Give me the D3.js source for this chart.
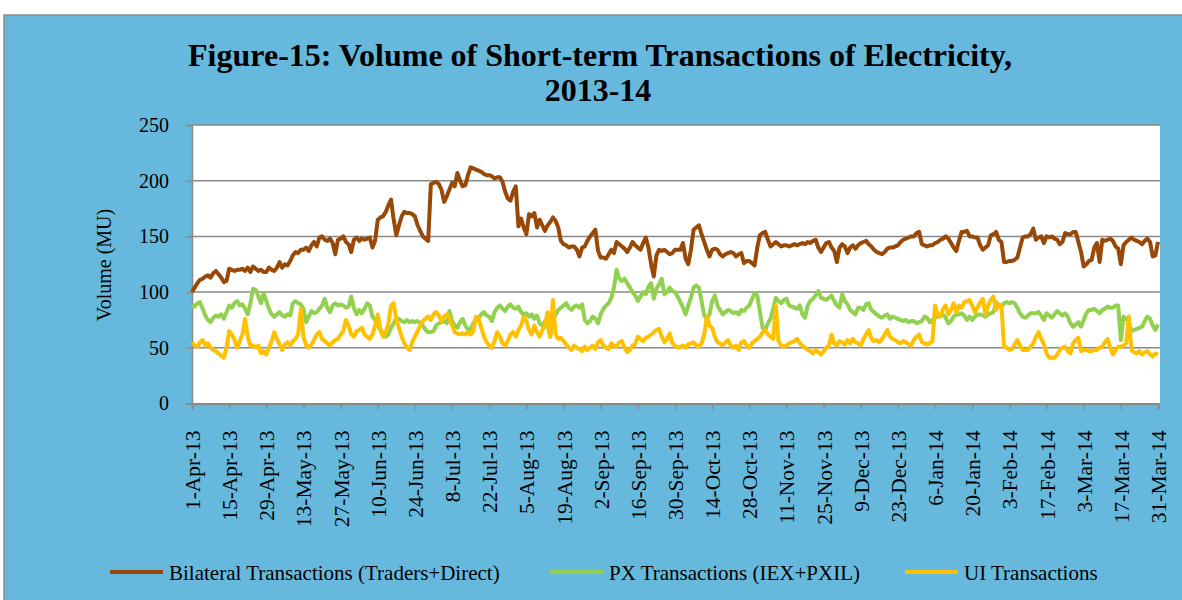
<!DOCTYPE html>
<html>
<head>
<meta charset="utf-8">
<script src="https://cdn.jsdelivr.net/npm/d3@7"></script>
<style>
body { margin: 0; background: #fff; }
svg  { display: block; font-family: "Liberation Serif", "Times New Roman", serif; }
</style>
</head>
<body>
<svg id="chart" width="1182" height="600"></svg>
<script>
"use strict"

// daily volumes (MU), 1-Apr-13 .. 31-Mar-14, one row per two weeks
var bilateral = [
    100,104,108,111,112,114,115,113,117,119,116,113,109,110,
    121,120,119,120,120,121,119,122,118,123,121,119,120,118,
    118,122,120,119,122,127,122,125,124,128,133,136,135,138,
    138,140,137,142,145,141,149,150,147,146,148,144,134,147,
    148,150,145,143,136,147,149,146,148,147,148,149,140,146,
    165,167,168,172,178,183,165,151,160,168,172,171,171,170,
    168,160,155,150,148,146,197,198,199,197,192,181,186,192,
    198,195,207,200,195,196,205,212,211,210,209,208,206,205,
    205,204,202,203,203,199,190,184,182,190,195,159,166,158,
    152,170,168,171,158,165,160,155,160,163,167,164,158,146,
    143,142,140,141,141,138,132,140,141,146,150,153,156,137,
    131,131,130,134,138,135,145,143,141,139,136,140,145,142,
    140,138,144,149,140,125,114,133,138,137,138,136,134,135,
    138,138,138,144,130,125,138,156,158,160,152,145,138,132,
    138,139,138,134,132,134,135,136,135,132,134,135,126,128,
    128,126,124,140,151,153,154,147,141,143,145,143,141,142,
    142,141,142,143,142,143,144,143,145,144,146,147,140,136,
    140,144,145,140,137,127,140,143,141,135,140,142,139,142,
    144,145,146,143,141,138,136,135,134,136,139,140,140,141,
    142,145,147,148,149,150,150,153,154,143,142,141,142,142,
    144,145,147,148,150,148,144,140,137,146,154,154,155,150,
    150,149,149,142,138,140,142,151,152,154,147,145,127,127,
    128,128,129,131,140,149,150,150,152,157,147,149,150,144,
    150,149,150,148,147,143,145,153,152,152,154,154,145,136,
    123,125,128,129,140,144,127,147,146,147,148,146,141,139,
    125,142,145,147,149,147,146,145,143,146,148,145,132,133,145
];

var px = [
    88,87,90,91,85,79,75,73,77,79,78,80,76,82,
    88,86,90,92,88,89,85,80,90,103,102,96,90,99,
    92,85,80,78,80,82,79,78,80,79,90,92,90,89,
    85,73,78,83,81,82,85,88,94,86,82,88,90,88,
    89,88,86,87,96,86,80,84,81,85,90,88,78,75,
    70,66,63,60,62,68,72,77,76,74,73,75,73,74,
    73,74,72,70,66,64,64,65,70,72,73,74,72,83,
    74,70,68,73,76,70,66,67,72,75,77,80,82,79,
    78,74,82,86,88,85,83,87,89,86,85,87,82,80,
    81,78,80,76,79,72,70,74,70,60,75,80,84,86,
    88,90,86,84,87,88,86,89,75,72,74,78,76,72,
    80,85,88,90,95,104,120,112,110,112,108,104,100,97,
    92,96,100,98,105,108,94,103,107,112,98,100,104,101,
    100,96,91,86,80,88,95,104,106,104,92,79,76,80,
    92,97,88,84,80,82,84,83,81,82,80,84,83,86,
    88,94,99,97,82,68,66,72,76,85,95,92,90,93,
    94,88,87,86,85,88,80,77,88,92,94,97,101,95,
    94,93,95,97,92,88,86,98,92,89,84,82,80,86,
    86,84,89,90,84,82,80,78,77,79,80,76,78,77,
    76,75,74,75,73,74,74,72,73,74,78,77,73,75,
    77,78,79,80,77,72,74,78,80,80,81,79,75,78,
    75,78,80,80,79,78,80,81,82,91,88,87,90,91,
    90,91,90,86,81,78,77,79,81,81,81,82,79,75,
    81,79,77,80,83,81,79,81,78,72,69,71,73,69,
    75,81,84,84,85,83,81,84,85,87,86,86,88,88,
    57,78,76,73,65,66,67,68,69,74,78,76,70,66,71
];

var ui = [
    55,52,51,55,57,52,54,50,48,47,45,43,41,50,
    65,62,57,50,56,62,76,60,52,52,50,52,45,47,
    44,50,56,64,58,53,48,53,55,52,56,58,62,85,
    60,52,50,53,57,62,64,58,56,54,52,55,57,58,
    62,65,75,70,62,60,65,66,68,62,60,58,62,70,
    80,66,60,64,72,88,90,75,68,60,54,50,48,55,
    60,65,70,74,76,78,75,80,82,79,74,78,80,76,
    70,64,63,62,63,62,64,62,65,78,76,68,60,55,
    52,50,56,64,60,54,52,56,62,64,60,66,70,78,
    74,66,62,70,64,60,66,70,82,60,93,62,58,59,
    56,53,50,48,52,50,49,47,51,48,50,52,49,55,
    57,52,50,49,54,52,51,55,56,50,46,48,52,53,
    60,58,56,59,60,62,64,66,67,60,55,58,63,54,
    52,50,51,52,50,53,54,55,52,51,54,62,78,70,
    68,60,55,54,52,55,57,52,50,52,48,55,56,52,
    50,54,56,58,60,64,66,62,60,58,88,56,52,51,
    52,54,55,56,58,54,52,50,48,47,45,48,46,44,
    47,50,52,62,54,52,56,55,53,57,54,58,55,54,
    52,58,62,66,58,56,57,55,58,62,66,60,58,57,
    55,54,56,55,53,52,57,60,62,55,54,53,54,56,
    88,80,78,85,88,80,84,90,82,88,86,91,92,93,
    88,82,86,91,94,80,88,93,96,84,89,88,51,50,
    48,49,53,57,52,48,48,48,51,54,60,64,58,53,
    45,41,41,41,44,48,50,51,47,45,54,57,59,47,
    48,48,47,47,48,48,50,51,55,58,50,44,48,51,
    51,52,54,78,48,46,45,47,44,46,47,44,42,45,44
];

var seriesNames = [
    "Bilateral Transactions (Traders+Direct)",
    "PX Transactions (IEX+PXIL)",
    "UI Transactions"
];
var yTicks     = [0, 50, 100, 150, 200, 250];
var firstDay   = new Date(Date.UTC(2013, 3, 1));
var tickEvery  = 14;   // days between x labels
var titleLines = ["Figure-15: Volume of Short-term Transactions of Electricity,", "2013-14"];

var colors   = ["#984807", "#92D050", "#FFC000"];
var gridGray = "#898989";

var svg = d3.select("#chart");

// blue chart area with gray frame
svg.append("rect")
    .attr("x", 4).attr("y", 15)
    .attr("width", 1190).attr("height", 600)
    .style("fill", "#66B9DC")
    .style("stroke", "#8a8a8a")
    .style("stroke-width", 1.5);

var days  = bilateral.length;
var dates = d3.range(days).map(i => d3.utcDay.offset(firstDay, i));

var x = d3.scaleUtc()
    .domain([dates[0], dates[days - 1]])
    .range([192, 1158]);
var y = d3.scaleLinear()
    .domain([0, 250])
    .range([403.5, 125]);

svg.append("rect")
    .attr("x", 192).attr("y", 125)
    .attr("width", 968).attr("height", 403.5 - 125)
    .style("fill", "#fff");

// horizontal gridlines
svg.append("g").selectAll("line").data(yTicks.filter(v => v > 0))
    .enter().append("line")
    .attr("x1", 192).attr("x2", 1160)
    .attr("y1", d => y(d)).attr("y2", d => y(d))
    .style("stroke", gridGray)
    .style("stroke-width", 1.5);

// y axis
var yAxis = svg.append("g")
    .attr("transform", "translate(192,0)")
    .call(d3.axisLeft(y).tickValues(yTicks).tickSize(6).tickPadding(17));
yAxis.select(".domain").style("stroke", gridGray).style("stroke-width", 1.5);
yAxis.selectAll(".tick line").style("stroke", gridGray).style("stroke-width", 1.5);
yAxis.selectAll(".tick text")
    .style("font-family", "Liberation Serif")
    .style("font-size", "20px")
    .style("fill", "#000");

// x axis
var tickDates = d3.range(0, days, tickEvery).map(i => dates[i]);
var fmt = d3.utcFormat("%-d-%b-%y");
var xAxis = svg.append("g")
    .attr("transform", "translate(0,403.5)")
    .call(d3.axisBottom(x).tickValues(tickDates).tickSize(6).tickFormat(fmt));
xAxis.select(".domain").style("stroke", gridGray).style("stroke-width", 2);
xAxis.selectAll(".tick line").style("stroke", gridGray).style("stroke-width", 1.5);
xAxis.selectAll(".tick text")
    .attr("y", 0).attr("dy", null)
    .attr("transform", "translate(7.5,27) rotate(-90)")
    .style("text-anchor", "end")
    .style("font-family", "Liberation Serif")
    .style("font-size", "21.5px")
    .style("fill", "#000");

// series
var line = d3.line()
    .x((d, i) => x(dates[i]))
    .y(d => y(d));
[bilateral, px, ui].forEach(function(values, k) {
    svg.append("path")
        .datum(values)
        .attr("d", line)
        .style("fill", "none")
        .style("stroke", colors[k])
        .style("stroke-width", 4)
        .style("stroke-linejoin", "round");
});

// y title
svg.append("text")
    .attr("transform", "translate(111,265) rotate(-90)")
    .attr("text-anchor", "middle")
    .style("font-size", "20px")
    .text("Volume (MU)");

// title
svg.append("text")
    .attr("x", 600).attr("y", 66)
    .attr("text-anchor", "middle")
    .style("font-size", "32px")
    .style("font-weight", "bold")
    .text(titleLines[0]);
svg.append("text")
    .attr("x", 598).attr("y", 101)
    .attr("text-anchor", "middle")
    .style("font-size", "32px")
    .style("font-weight", "bold")
    .text(titleLines[1]);

// legend
var legendX = [110, 550, 905];
var legend = svg.append("g").selectAll("g").data(seriesNames)
    .enter().append("g")
    .attr("transform", (d, i) => "translate(" + legendX[i] + ",572)");
legend.append("line")
    .attr("x1", 0).attr("x2", 53)
    .style("stroke", (d, i) => colors[i])
    .style("stroke-width", 4);
legend.append("text")
    .attr("x", 59).attr("y", 8)
    .style("font-size", "21px")
    .text(d => d);
</script>
</body>
</html>
